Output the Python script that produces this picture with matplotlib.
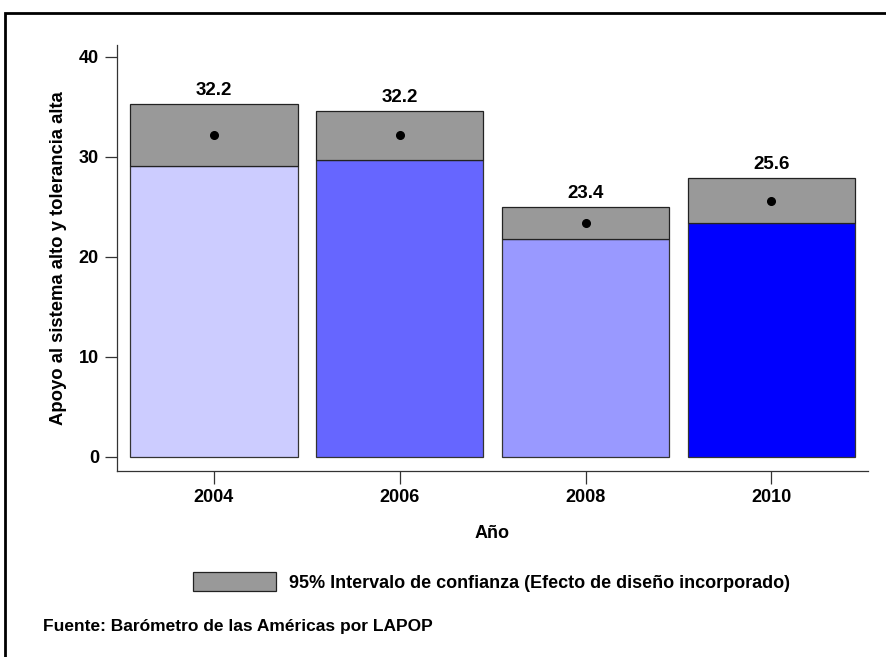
import matplotlib
matplotlib.use("Agg")
import matplotlib.pyplot as plt
from matplotlib.patches import Patch, Rectangle

years = ["2004", "2006", "2008", "2010"]
means = [32.2, 32.2, 23.4, 25.6]
ci_low = [29.1, 29.7, 21.8, 23.4]
ci_high = [35.3, 34.6, 25.0, 27.9]
bar_colors = ["#CCCCFF", "#6666FF", "#9999FF", "#0000FF"]
ci_color = "#999999"
yticks = [0, 10, 20, 30, 40]

plt.rcParams['font.family'] = ['Liberation Sans', 'DejaVu Sans']
plt.rcParams['font.weight'] = 'bold'

fig = plt.figure(figsize=(8.86, 6.57), dpi=100)
ax = fig.add_axes([117/886, 1-471/657, (868-117)/886, (471-45)/657])

x = list(range(len(years)))
ax.bar(x, ci_low, width=0.9, color=bar_colors, edgecolor="#333333", linewidth=0.9, zorder=2)
heights = [h - l for h, l in zip(ci_high, ci_low)]
ax.bar(x, heights, bottom=ci_low, width=0.9, color=ci_color, edgecolor="#222222", linewidth=0.9, zorder=2)
ax.plot(x, means, 'o', color='black', markersize=5.5, zorder=3)
for xi, m, h in zip(x, means, ci_high):
    ax.annotate(f"{m:.1f}", (xi, h), xytext=(0, 9.5), textcoords='offset points',
                ha='center', va='center', fontsize=13.5, fontweight='bold')

ax.set_xlim(-0.522, 3.52)
ax.set_ylim(-1.41, 41.2)
ax.set_xticks(x)
ax.set_xticklabels(years, fontsize=13, fontweight='bold')
ax.set_yticks(yticks)
ax.set_yticklabels([str(t) for t in yticks], fontsize=13, fontweight='bold')
ax.tick_params(axis='both', length=9, width=0.9, color='#333333', pad=4)
for s in ['top', 'right']:
    ax.spines[s].set_visible(False)
for s in ['left', 'bottom']:
    ax.spines[s].set_color('#333333')
    ax.spines[s].set_linewidth(0.9)

ax.set_xlabel("Año", fontsize=13, fontweight='bold', labelpad=14)
fig.text(59/886, 1-258/657, "Apoyo al sistema alto y tolerancia alta", rotation=90,
         ha='center', va='center', fontsize=13.3, fontweight='bold')

handle = Patch(facecolor=ci_color, edgecolor='#222222', linewidth=0.9)
fig.legend([handle], ["95% Intervalo de confianza (Efecto de diseño incorporado)"],
           loc='center left', bbox_to_anchor=(193/886, 1-582/657), frameon=False,
           prop={'weight': 'bold', 'size': 13}, handlelength=4.6, handleheight=1.25,
           handletextpad=0.7, borderpad=0, borderaxespad=0)

fig.text(43/886, 1-626/657, "Fuente: Barómetro de las Américas por LAPOP",
         ha='left', va='center', fontsize=12.5, fontweight='bold')

fig.patches.append(Rectangle((5/886, -0.1), 1.2, 1 - 13/657 + 0.1, transform=fig.transFigure,
                             fill=False, edgecolor='black', linewidth=2))

fig.savefig("out.png", dpi=100)
